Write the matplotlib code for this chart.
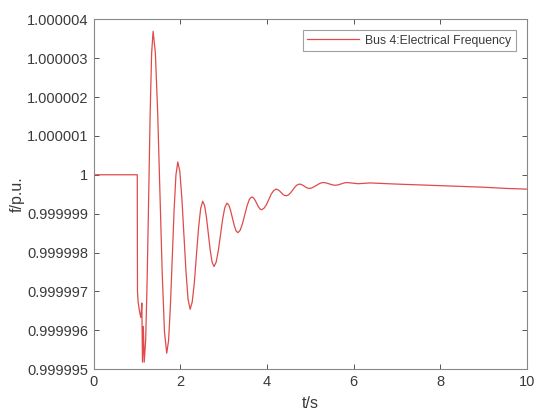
import matplotlib
matplotlib.use("Agg")
import matplotlib.pyplot as plt

# time (s)
t = [0.0, 1.01, 1.012, 1.015, 1.03, 1.06, 1.09, 1.105, 1.115, 1.13, 1.15, 1.17,
     1.204, 1.238, 1.273, 1.307, 1.341, 1.375,
     1.4275, 1.48, 1.5325, 1.585, 1.6375, 1.69,
     1.7325, 1.775, 1.8175, 1.86, 1.9025, 1.945,
     1.9925, 2.04, 2.0875, 2.135, 2.1825, 2.23,
     2.278, 2.327, 2.375, 2.423, 2.472, 2.52,
     2.563, 2.607, 2.65, 2.693, 2.737, 2.78,
     2.83, 2.88, 2.93, 2.98, 3.03, 3.08,
     3.122, 3.163, 3.205, 3.247, 3.288, 3.33,
     3.383, 3.437, 3.49, 3.543, 3.597, 3.65,
     3.688, 3.727, 3.765, 3.803, 3.842, 3.88,
     3.935, 3.99, 4.045, 4.10, 4.155, 4.21,
     4.249, 4.288, 4.328, 4.367, 4.406, 4.445,
     4.496, 4.547, 4.598, 4.648, 4.699, 4.75,
     4.788, 4.827, 4.865, 4.903, 4.942, 4.98,
     5.033, 5.087, 5.14, 5.193, 5.247, 5.30,
     5.37, 5.44, 5.51, 5.58,
     5.645, 5.715, 5.785, 5.85,
     5.98, 6.11, 6.245, 6.38,
     7.0, 7.5, 8.0, 8.5, 9.0, 9.5, 10.0]

# frequency deviation from 1 p.u., in units of 1e-6 p.u.
dev_1e6 = [0.0, 0.0, -1.5, -3.0, -3.28, -3.5, -3.67, -3.5, -3.3, -4.82, -3.9, -4.82,
           -4.25, -2.69, -0.57, 1.56, 3.12, 3.69,
           3.14, 1.62, -0.45, -2.52, -4.04, -4.59,
           -4.26, -3.36, -2.13, -0.90, 0.0, 0.33,
           0.08, -0.62, -1.57, -2.51, -3.21, -3.46,
           -3.27, -2.77, -2.07, -1.38, -0.87, -0.68,
           -0.79, -1.10, -1.52, -1.94, -2.25, -2.36,
           -2.25, -1.95, -1.55, -1.14, -0.84, -0.73,
           -0.78, -0.92, -1.11, -1.30, -1.44, -1.49,
           -1.43, -1.26, -1.03, -0.80, -0.63, -0.57,
           -0.59, -0.65, -0.735, -0.82, -0.88, -0.90,
           -0.86, -0.77, -0.635, -0.50, -0.41, -0.37,
           -0.38, -0.41, -0.455, -0.50, -0.53, -0.54,
           -0.52, -0.465, -0.39, -0.315, -0.26, -0.24,
           -0.247, -0.268, -0.295, -0.322, -0.343, -0.35,
           -0.34, -0.31, -0.275, -0.24, -0.21, -0.20,
           -0.21, -0.235, -0.26, -0.27,
           -0.26, -0.235, -0.21, -0.20,
           -0.215, -0.23, -0.22, -0.21,
           -0.24, -0.26, -0.28, -0.30, -0.32, -0.35, -0.37]

f = [1.0 + d * 1e-6 for d in dev_1e6]

y_ticks = [0.999995, 0.999996, 0.999997, 0.999998, 0.999999,
           1.0, 1.000001, 1.000002, 1.000003, 1.000004]
y_tick_labels = ["0.999995", "0.999996", "0.999997", "0.999998", "0.999999",
                 "1", "1.000001", "1.000002", "1.000003", "1.000004"]
x_ticks = [0, 2, 4, 6, 8, 10]
x_tick_labels = ["0", "2", "4", "6", "8", "10"]

plt.rcParams['font.family'] = ['Liberation Sans', 'DejaVu Sans']

fig = plt.figure(figsize=(5.5, 4.19), dpi=100)
ax = fig.add_axes([0.170, 0.119, 0.788, 0.835])

ax.plot(t, f, color='#e04a4a', lw=0.9, label='Bus 4:Electrical Frequency')

ax.set_xlim(0, 10)
ax.set_ylim(0.999995, 1.000004)
ax.set_xticks(x_ticks)
ax.set_xticklabels(x_tick_labels)
ax.set_yticks(y_ticks)
ax.set_yticklabels(y_tick_labels)

ax.tick_params(direction='in', top=True, right=True, length=3.5, width=0.7,
               color='#555555', labelcolor='#3a3a3a', labelsize=10.5, pad=4)
for s in ax.spines.values():
    s.set_color('#888888')
    s.set_linewidth(0.8)

ax.set_xlabel('t/s', fontsize=11.5, color='#3a3a3a', labelpad=5)
ax.set_ylabel('f/p.u.', fontsize=11.5, color='#3a3a3a', labelpad=1.5)

leg = ax.legend(loc='upper right', fontsize=8.8, frameon=True, fancybox=False,
                edgecolor='#888888', borderpad=0.35, handlelength=4.3,
                handletextpad=0.5, borderaxespad=0.9)
leg.get_frame().set_linewidth(0.8)
for txt in leg.get_texts():
    txt.set_color('#3a3a3a')

fig.savefig('out.png', dpi=100)
